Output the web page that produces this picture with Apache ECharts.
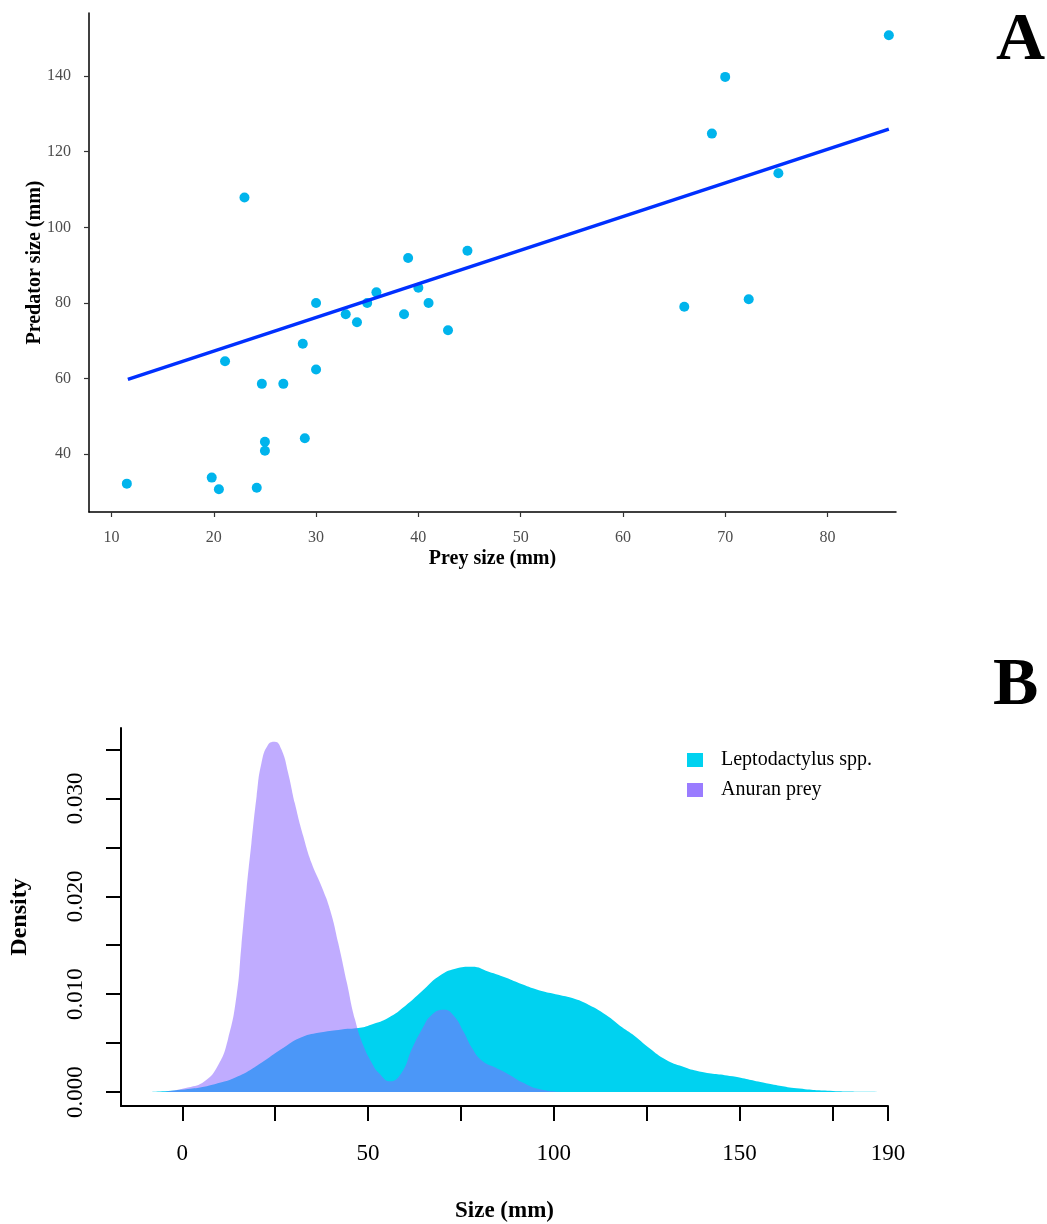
<!DOCTYPE html>
<html>
<head>
<meta charset="utf-8">
<script src="https://cdn.jsdelivr.net/npm/echarts@6/dist/echarts.min.js"></script>
<style>
  html, body { margin: 0; padding: 0; background: #fff; }
  #chart { width: 1047px; height: 1224px; }
</style>
</head>
<body>
<div id="chart"></div>
<script>
// panel A: prey size vs predator size
var preyX = [11.5, 19.8, 20.5, 24.2, 23.0, 21.1, 24.7, 26.8, 25.0, 25.0, 28.9, 28.7, 30.0, 30.0, 32.9,
             34.0, 35.0, 35.9, 38.6, 39.0, 40.0, 41.0, 42.9, 44.8, 66.0, 68.7, 70.0, 72.3, 75.2, 86.0];
var predY = [32.2, 33.8, 30.7, 31.1, 107.9, 64.6, 58.6, 58.6, 43.3, 40.9, 44.2, 69.2, 62.4, 80.0, 77.0,
             74.9, 80.0, 82.8, 77.0, 91.9, 84.0, 80.0, 72.8, 93.8, 79.0, 124.8, 139.8, 81.0, 114.3, 150.8];
// fitted line ends
var fitX = [11.6, 86.0];
var fitY = [59.8, 126.0];
var ticksA_x = [10, 20, 30, 40, 50, 60, 70, 80];
var ticksA_y = [40, 60, 80, 100, 120, 140];

// panel B: density curves
var leptoX = [-8.4, 1.5, 8.7, 15, 21.3, 26.7, 32.1, 37.5, 42.9, 48.3, 51, 55.5, 60, 64.5, 69, 73.5, 78, 82.5,
              87, 91.5, 96, 100.5, 105, 109.5, 114, 118.5, 121.2, 125.7, 130.2, 134.7, 139.2, 148.2, 157.2,
              166.2, 175.2, 184.2, 190];
var leptoD = [0, 0.0003, 0.0008, 0.0016, 0.003, 0.0044, 0.0056, 0.0061, 0.0064, 0.0066, 0.0069, 0.0076, 0.0088,
              0.0103, 0.0118, 0.0126, 0.0128, 0.0123, 0.0117, 0.011, 0.0104, 0.01, 0.0096, 0.0089, 0.0079,
              0.0066, 0.0059, 0.0045, 0.0033, 0.0026, 0.0021, 0.0016, 0.0009, 0.00035, 0.0001, 0.00002, 0];
var anuranX = [-4.8, 1.5, 6, 9.6, 12.3, 14.6, 15.9, 17.3, 18.6, 20, 21.3, 23.1, 24.9, 26.7, 28.5, 30.3, 32.6,
               34.8, 37.5, 39.8, 42, 44.3, 46.5, 48.8, 51, 52.8, 56, 59.1, 61.8, 64.5, 67.2, 70.4, 73.1, 75.8,
               78, 80.7, 84.3, 87.9, 91.5, 96, 102.3];
var anuranD = [0, 0.00045, 0.0011, 0.0027, 0.0054, 0.0098, 0.0149, 0.0207, 0.0254, 0.0302, 0.0336, 0.0355,
               0.0358, 0.035, 0.0326, 0.0295, 0.0261, 0.0234, 0.021, 0.0186, 0.0152, 0.0112, 0.0074, 0.0047,
               0.003, 0.002, 0.0011, 0.002, 0.0044, 0.0064, 0.0079, 0.0084, 0.0078, 0.0061, 0.0045, 0.0032,
               0.0025, 0.0018, 0.001, 0.0003, 0];
var ticksB_x = [0, 25, 50, 75, 100, 125, 150, 175, 190];
var labelsB_x = [0, 50, 100, 150, 190];
var ticksB_y = [0, 0.005, 0.01, 0.015, 0.02, 0.025, 0.03, 0.035];
var labelsB_y = [0, 0.01, 0.02, 0.03];

function pairs(xs, ys) {
	var out = [];
	for (var i = 0; i < xs.length; i++) out.push([xs[i], ys[i]]);
	return out;
}

var serif = 'Liberation Serif';
var myChart = echarts.init(document.getElementById('chart'));
var option = {
	animation: false,
	textStyle: { fontFamily: serif },
	title: [
		{ text: 'A', left: 991, top: 2, textStyle: { fontFamily: serif, fontWeight: 'bold', fontSize: 68, color: '#000' } },
		{ text: 'B', left: 988, top: 647, textStyle: { fontFamily: serif, fontWeight: 'bold', fontSize: 68, color: '#000' } }
	],
	legend: {
		orient: 'vertical',
		left: 682,
		top: 745,
		itemWidth: 16,
		itemHeight: 14,
		itemGap: 10,
		textStyle: { fontFamily: serif, fontSize: 20, color: '#000', padding: [0, 0, 0, 13] },
		data: [
			{ name: 'Leptodactylus spp.', icon: 'rect', itemStyle: { color: '#00d2f0' } },
			{ name: 'Anuran prey', icon: 'rect', itemStyle: { color: '#9a7cff' } }
		]
	},
	grid: [
		{ left: 89, top: 13, width: 807, height: 499 },
		{ left: 120, top: 728, width: 768, height: 379 }
	],
	xAxis: [
		{
			gridIndex: 0, type: 'value', min: 7.8, max: 86.7,
			name: 'Prey size (mm)', nameLocation: 'middle', nameGap: 37, nameMoveOverlap: false,
			nameTextStyle: { fontFamily: serif, fontWeight: 'bold', fontSize: 20, color: '#000' },
			splitLine: { show: false },
			axisLine: { onZero: false, lineStyle: { color: '#000', width: 1.5 } },
			axisTick: { length: 5, lineStyle: { color: '#333', width: 1.2 }, customValues: ticksA_x },
			axisLabel: { fontFamily: serif, fontSize: 16, color: '#4d4d4d', margin: 18, customValues: ticksA_x }
		},
		{
			gridIndex: 1, type: 'value', min: -16.5, max: 190,
			name: 'Size (mm)', nameLocation: 'middle', nameGap: 94, nameMoveOverlap: false,
			nameTextStyle: { fontFamily: serif, fontWeight: 'bold', fontSize: 23, color: '#000' },
			splitLine: { show: false },
			axisLine: { onZero: false, lineStyle: { color: '#000', width: 2 } },
			axisTick: { length: 15, lineStyle: { color: '#000', width: 2 }, customValues: ticksB_x },
			axisLabel: { fontFamily: serif, fontSize: 23, color: '#000', margin: 36, customValues: labelsB_x }
		}
	],
	yAxis: [
		{
			gridIndex: 0, type: 'value', min: 24.7, max: 156.7,
			name: 'Predator size (mm)', nameLocation: 'middle', nameGap: 44, nameMoveOverlap: false,
			nameTextStyle: { fontFamily: serif, fontWeight: 'bold', fontSize: 20, color: '#000' },
			splitLine: { show: false },
			axisLine: { onZero: false, lineStyle: { color: '#000', width: 1.5 } },
			axisTick: { length: 5, lineStyle: { color: '#333', width: 1.2 }, customValues: ticksA_y },
			axisLabel: { fontFamily: serif, fontSize: 16, color: '#4d4d4d', margin: 18, customValues: ticksA_y }
		},
		{
			gridIndex: 1, type: 'value', min: -0.00143, max: 0.0372,
			name: 'Density', nameLocation: 'middle', nameGap: 89, nameMoveOverlap: false,
			nameTextStyle: { fontFamily: serif, fontWeight: 'bold', fontSize: 24, color: '#000' },
			splitLine: { show: false },
			axisLine: { onZero: false, lineStyle: { color: '#000', width: 2 } },
			axisTick: { length: 15, lineStyle: { color: '#000', width: 2 }, customValues: ticksB_y },
			axisLabel: {
				fontFamily: serif, fontSize: 23, color: '#000', margin: 34, rotate: 90,
				customValues: labelsB_y,
				formatter: function (v) { return v.toFixed(3); }
			}
		}
	],
	series: [
		{
			name: 'points', type: 'scatter', xAxisIndex: 0, yAxisIndex: 0,
			symbolSize: 10,
			itemStyle: { color: '#00b4ec', opacity: 1 },
			data: pairs(preyX, predY)
		},
		{
			name: 'fit', type: 'line', xAxisIndex: 0, yAxisIndex: 0,
			showSymbol: false,
			lineStyle: { color: '#0030ff', width: 3.5 },
			data: pairs(fitX, fitY)
		},
		{
			name: 'Leptodactylus spp.', type: 'line', xAxisIndex: 1, yAxisIndex: 1,
			smooth: 0.5, showSymbol: false,
			itemStyle: { color: '#00d2f0' },
			lineStyle: { width: 0 },
			areaStyle: { color: '#00d2f0', opacity: 1 },
			data: pairs(leptoX, leptoD)
		},
		{
			name: 'Anuran prey', type: 'line', xAxisIndex: 1, yAxisIndex: 1,
			smooth: 0.5, showSymbol: false,
			itemStyle: { color: '#9a7cff' },
			lineStyle: { width: 0 },
			areaStyle: { color: 'rgba(138,102,255,0.54)', opacity: 1 },
			data: pairs(anuranX, anuranD)
		}
	]
};
myChart.setOption(option);
</script>
</body>
</html>
